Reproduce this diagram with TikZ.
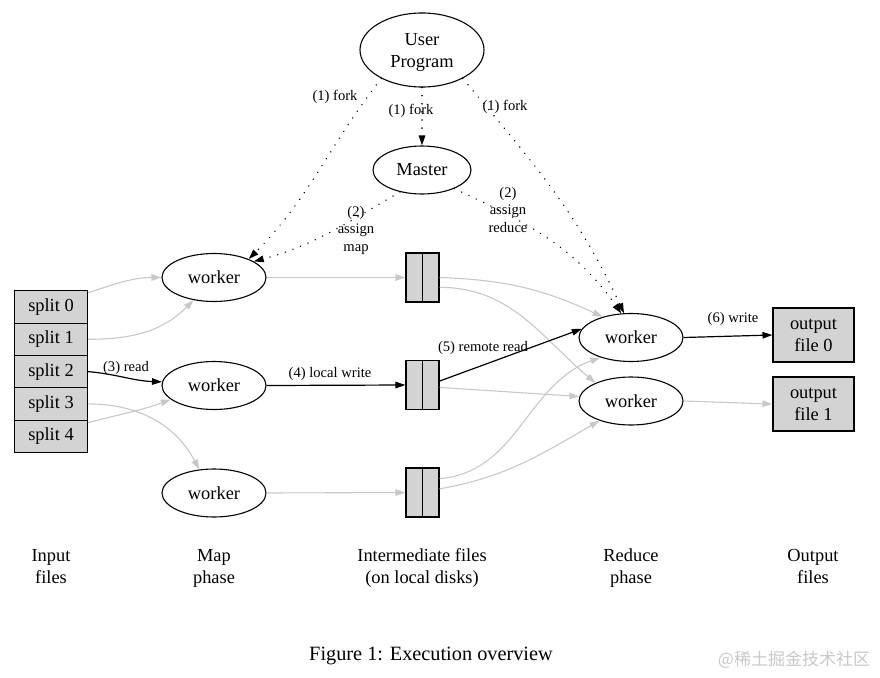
\documentclass[tikz,border=0pt]{standalone}
\usepackage{fontspec}
\setmainfont{Liberation Serif}
\newfontfamily\cjk{Noto Sans CJK SC}
\usepackage{tikz}
\usetikzlibrary{arrows.meta, shapes.geometric, calc}
\definecolor{boxgray}{RGB}{211,211,211}
\definecolor{edgegray}{RGB}{200,200,200}

\begin{document}
\begin{tikzpicture}[x=1pt, y=-1pt, >={Triangle[length=10pt,width=6.5pt]},
  proc/.style={ellipse, draw, line width=1.1pt, inner sep=0pt, align=center,
    font=\fontsize{18.4}{22}\selectfont},
  splitbox/.style={rectangle, draw, line width=1.1pt, fill=boxgray, inner sep=0pt,
    minimum width=73pt, minimum height=32.3pt, font=\fontsize{18.4}{22}\selectfont},
  filebox/.style={rectangle, draw, line width=1.1pt, fill=boxgray, inner sep=0pt,
    minimum width=33pt, minimum height=49pt},
  outbox/.style={splitbox, minimum width=81pt, minimum height=54pt, align=center},
  flow/.style={->, line width=1.2pt},
  faint/.style={->, draw=edgegray, line width=1.1pt},
  ctrl/.style={->, line width=1.5pt, line cap=round, dash pattern=on 0.1pt off 8pt},
  lbl/.style={font=\fontsize{14.6}{17.5}\selectfont, align=center, inner sep=0pt},
  phase/.style={font=\fontsize{18.4}{22}\selectfont, align=center, text depth=4pt}]
  \useasboundingbox (0,0) rectangle (880,677);

  % master side
  \node[proc, minimum width=124pt, minimum height=74pt, text depth=0pt] (user) at (422,50) {User\\Program};
  \node[proc, minimum width=98pt, minimum height=48pt] (master) at (422,170) {Master};

  % input splits
  \foreach \i in {0,...,4}
    \node[splitbox] (split\i) at (51,{307+32.3*\i}) {split \i};

  % map workers
  \node[proc, minimum width=104pt, minimum height=48pt] (map0) at (214,277.5) {worker};
  \node[proc, minimum width=104pt, minimum height=48pt] (map1) at (214,385.5) {worker};
  \node[proc, minimum width=104pt, minimum height=48pt] (map2) at (214,493) {worker};

  % intermediate files
  \foreach \i/\y in {0/277.5, 1/385, 2/492.5} {
    \node[filebox] (mid\i) at (422.5,\y) {};
    \draw[line width=1.1pt] (mid\i.north) -- (mid\i.south);
  }

  % reduce workers and output files
  \node[proc, minimum width=104pt, minimum height=48pt] (red0) at (631,337.5) {worker};
  \node[proc, minimum width=104pt, minimum height=48pt] (red1) at (631,401) {worker};
  \node[outbox, text depth=-2pt] (out0) at (813.5,335) {output\\file 0};
  \node[outbox, text depth=-2pt] (out1) at (813.5,404) {output\\file 1};

  % splits -> map workers
  \draw[faint] (split0.21) to[out=18,in=180] (map0.west);
  \draw[faint] (split1.east) to[out=0,in=225] (map0.228);
  \draw[flow] (split2.east) to[out=-5,in=178] (map1.176);
  \draw[faint] (split3.east) to[out=0,in=118] (map2.122);
  \draw[faint] (split4.20) to[out=15,in=200] (map1.198);

  % map workers -> intermediate files
  \draw[faint] (map0.east) -- (mid0.west);
  \draw[flow] (map1.east) -- (mid1.west);
  \draw[faint] (map2.east) -- (mid2.west);

  % intermediate files -> reduce workers
  \draw[faint] (mid0.east) to[out=-2,in=155] (red0.144);
  \draw[faint] (mid0.-30) to[out=0,in=140] (red1.153);
  \draw[flow] (mid1.13) -- (red0.170);
  \draw[faint] (mid1.-8) -- (red1.175);
  \draw[faint] (mid2.39) to[out=5,in=200] (red0.213);
  \draw[faint] (mid2.12) to[out=10,in=210] (red1.212);

  % reduce workers -> output files
  \draw[flow] (red0.east) -- (out0.west);
  \draw[faint] (red1.east) -- (out1.west);

  % fork and assign
  \draw[ctrl] (user.south) -- (master.north);
  \draw[ctrl] (user.215) to[out=232,in=45] (map0.28);
  \draw[ctrl] (user.-35) to[out=-50,in=115] (red0.106);
  \draw[ctrl] (master.225) to[out=210,in=15] (map0.22);
  \draw[ctrl] (master.330) to[out=-25,in=125] (red0.112);

  % edge labels
  \node[lbl] (forkl) at (335,97) {(1) fork};
  \node[lbl] (forkm) at (411,111) {(1) fork};
  \node[lbl] (forkr) at (505,107) {(1) fork};
  \node[lbl] (amap) at (356,230) {(2)\\assign\\map};
  \node[lbl] (ared) at (508,210) {(2)\\assign\\reduce};
  \node[lbl] (read) at (126,368) {(3) read};
  \node[lbl] (lwrite) at (330,374) {(4) local write};
  \node[lbl] (rread) at (483,348) {(5) remote read};
  \node[lbl] (owrite) at (733,319) {(6) write};

  % phase captions
  \node[phase] (pin) at (51,568) {Input\\files};
  \node[phase] (pmap) at (214,568) {Map\\phase};
  \node[phase] (pmid) at (422,568) {Intermediate files\\(on local disks)};
  \node[phase] (pred) at (631,568) {Reduce\\phase};
  \node[phase] (pout) at (813,568) {Output\\files};

  \node[font=\fontsize{20.3}{24}\selectfont] (cap) at (431,656) {Figure 1: Execution overview};
  \node[text=edgegray, font=\cjk\fontsize{17}{20}\selectfont] (mark) at (794,660) {@稀土掘金技术社区};
\end{tikzpicture}
\end{document}
